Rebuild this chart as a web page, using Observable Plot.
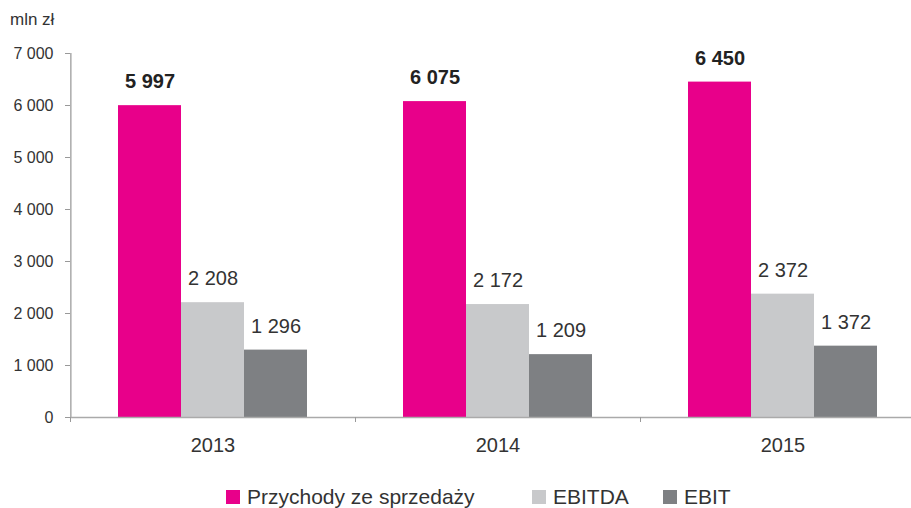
<!DOCTYPE html>
<html><head><meta charset="utf-8">
<script src="https://cdn.jsdelivr.net/npm/d3@7"></script>
<script src="https://cdn.jsdelivr.net/npm/@observablehq/plot@0.6"></script>
<style>
html,body{margin:0;padding:0;background:#fff;overflow:hidden;width:911px;height:508px;}
#wrap{position:relative;width:911px;height:508px;font-family:"Liberation Sans",Arial,sans-serif;color:#333;}
#unit{position:absolute;left:10px;top:11px;font-size:17px;line-height:17px;}
#chart{position:absolute;left:0;top:40px;}
#legend{position:absolute;left:226px;top:485px;display:flex;align-items:center;font-size:21px;line-height:24px;white-space:nowrap;}
.item{display:flex;align-items:center;}
.sw{width:14px;height:14px;margin-right:7px;}
</style></head><body>
<div id="wrap"><div id="unit">mln zł</div><div id="chart"></div><div id="legend"></div></div>
<script>
const years = ["2013", "2014", "2015"];
const series = ["Przychody ze sprzedaży", "EBITDA", "EBIT"];
const przychody = [5997, 6075, 6450];
const ebitda = [2208, 2172, 2372];
const ebit = [1296, 1209, 1372];
const colors = ["#E8008A", "#C8C9CB", "#7E8083"];
const yTicks = [0, 1000, 2000, 3000, 4000, 5000, 6000, 7000];

const values = [przychody, ebitda, ebit];
const data = [];
years.forEach((y, i) => series.forEach((s, j) => data.push({year: y, series: s, value: values[j][i]})));

const fmt = d3.formatLocale({decimal: ",", thousands: " ", grouping: [3], currency: ["", ""]}).format(",d");
const font = '"Liberation Sans", Arial, sans-serif';

// x band layout inside each year group
const padOuter = 0.75;
const groupW = 285;
const bandW = groupW / (series.length + 2 * padOuter);

const plot = Plot.plot({
  width: 925, height: 430,
  marginLeft: 70, marginRight: 0, marginTop: 13, marginBottom: 53,
  style: {fontFamily: font, fontSize: "16px", color: "#333", maxWidth: "none", overflow: "visible", background: "transparent"},
  fx: {domain: years, padding: 0, label: null},
  x: {domain: series, paddingInner: 0, paddingOuter: padOuter, axis: null},
  y: {domain: [0, 7000], label: null},
  color: {domain: series, range: colors},
  marks: [
    Plot.barY(data, {fx: "year", x: "series", y: "value", fill: "series"}),
    Plot.ruleY([0], {stroke: "#aaa", strokeWidth: 1.5}),
    Plot.ruleX([years[0]], {fx: d => d, x: () => series[0], dx: -(padOuter * bandW + bandW / 2), stroke: "#aaa", strokeWidth: 1.5}),
    Plot.axisY({ticks: yTicks, tickFormat: fmt, tickSize: 5, tickPadding: 12, stroke: "#999", fill: "#333", label: null, fontSize: 16}),
    Plot.axisFx({anchor: "bottom", tickSize: 0, tickPadding: 20, fontSize: 20, label: null, fill: "#333"}),
    Plot.axisFx({anchor: "bottom", tickSize: 5, tickFormat: () => "", dx: -groupW / 2, stroke: "#999", label: null}),
    Plot.text(data.filter(d => d.series === series[0]), {fx: "year", x: "series", y: "value", text: d => fmt(d.value), dy: -24, fontWeight: "bold", fontSize: 20, fill: "#222"}),
    Plot.text(data.filter(d => d.series !== series[0]), {fx: "year", x: "series", y: "value", text: d => fmt(d.value), dy: -24, fontSize: 20, fill: "#333"})
  ]
});
document.getElementById("chart").appendChild(plot);

const legend = document.getElementById("legend");
const itemWidths = [306, 131, null];
series.forEach((s, i) => {
  const it = document.createElement("div");
  it.className = "item";
  if (itemWidths[i]) it.style.width = itemWidths[i] + "px";
  const sw = document.createElement("span");
  sw.className = "sw";
  sw.style.background = colors[i];
  const t = document.createElement("span");
  t.textContent = s;
  it.appendChild(sw); it.appendChild(t);
  legend.appendChild(it);
});
</script>
</body></html>
